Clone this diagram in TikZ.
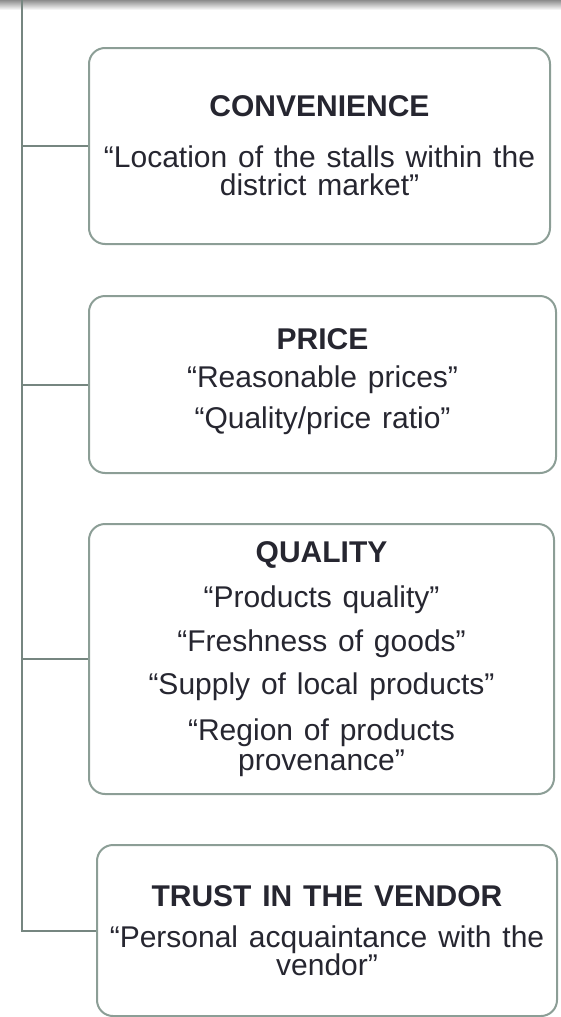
\documentclass[tikz,border=0pt]{standalone}
\usepackage{fontspec}
\setmainfont{Liberation Sans}[WordSpace=1.3]
\definecolor{stem}{RGB}{118,134,128}
\definecolor{frame}{RGB}{140,158,150}
\definecolor{ink}{RGB}{38,38,48}
\newcommand\cardfont{\fontsize{15pt}{14pt}\selectfont\lineskiplimit=-10pt\relax}
\begin{document}
\begin{tikzpicture}[
        x=0.5pt, y=-0.5pt, % координаты в пикселях, ось y вниз
        stem/.style = {draw=stem, line width=1pt},
        card/.style={draw=frame, line width=1pt, rounded corners=8pt, align=center, text=ink,
            font=\cardfont}, % Стиль блоков
    ]
    \useasboundingbox (0,0) rectangle (561,1017);
    % тень сверху
    \shade[top color=black!45, bottom color=white] (0,0) rectangle (561,10);

    \node[card, minimum width=230.5pt, minimum height=98pt] (conv) at (319.5,146)
        {\textbf{CONVENIENCE}\\[11.5pt] “Location of the stalls within the\\ district market”};
    \node[card, minimum width=233.5pt, minimum height=88.5pt] (price) at (322.5,384.5)
        {\textbf{PRICE}\\[5pt] “Reasonable prices”\\[6.5pt] “Quality/price ratio”\rule[-6pt]{0pt}{0pt}};
    \node[card, minimum width=232.5pt, minimum height=135pt] (qual) at (321.5,659)
        {\textbf{QUALITY}\\[8.5pt] “Products quality”\\[8pt] “Freshness of goods”\\[7.5pt]
         “Supply of local products”\\[9pt] “Region of products\\[1pt] provenance”};
    \node[card, minimum width=230pt, minimum height=85.5pt] (trust) at (327,930.5)
        {\textbf{TRUST IN THE VENDOR}\\[6.5pt] “Personal acquaintance with the\\ vendor”};

    \coordinate (root) at (22,0);
    \draw[stem] (root) |- (trust.west);
    \foreach \n in {conv,price,qual}
        \draw[stem] (root |- \n.west) -- (\n.west);
\end{tikzpicture}
\end{document}
